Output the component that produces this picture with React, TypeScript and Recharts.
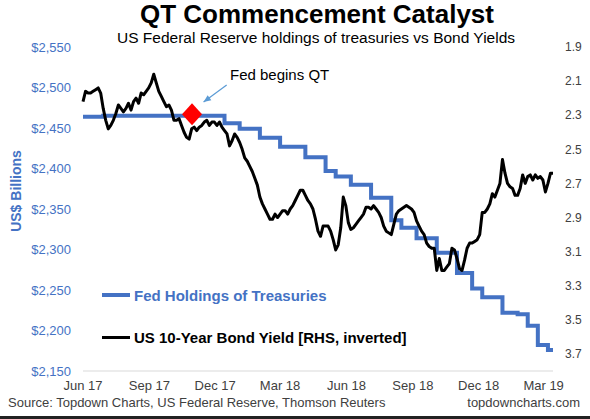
import React from 'react';
import {
  ComposedChart,
  Legend,
  Line,
  ReferenceDot,
  ReferenceLine,
  XAxis,
  YAxis
} from 'recharts';

// 10y yield, two readings a week starting 1 Jun 2017
const bondYield = [
  2.22, 2.16, 2.17, 2.17, 2.16, 2.15, 2.14, 2.17, 2.26, 2.33,
  2.38, 2.36, 2.33, 2.29, 2.24, 2.26, 2.28, 2.26, 2.23, 2.27,
  2.22, 2.2, 2.23, 2.17, 2.18, 2.16, 2.14, 2.11, 2.06, 2.11,
  2.16, 2.19, 2.22, 2.25, 2.24, 2.27, 2.33, 2.33, 2.32, 2.36,
  2.4, 2.43, 2.44, 2.38, 2.37, 2.39, 2.37, 2.36, 2.34, 2.33,
  2.36, 2.34, 2.34, 2.36, 2.34, 2.37, 2.39, 2.41, 2.48, 2.45,
  2.41, 2.43, 2.46, 2.5, 2.55, 2.57, 2.6, 2.63, 2.67, 2.71,
  2.78, 2.82, 2.85, 2.88, 2.91, 2.91, 2.88, 2.9, 2.88, 2.86,
  2.86, 2.88, 2.85, 2.83, 2.8, 2.77, 2.74, 2.74, 2.77, 2.8,
  2.82, 2.85, 2.91, 2.98, 3.01, 2.95, 2.95, 2.95, 2.98, 3.03,
  3.09, 3.06, 2.96, 2.78, 2.83, 2.93, 2.97, 2.96, 2.94, 2.92,
  2.9, 2.88, 2.84, 2.84, 2.85, 2.83, 2.85, 2.87, 2.9, 2.95,
  2.98, 2.99, 3.0, 2.94, 2.88, 2.86, 2.85, 2.84, 2.83, 2.84,
  2.85, 2.87, 2.92, 2.95, 2.98, 3.0, 3.05, 3.07, 3.08, 3.08,
  3.21, 3.14, 3.21, 3.21, 3.19, 3.17, 3.08, 3.09, 3.14, 3.2,
  3.21, 3.15, 3.08, 3.05, 3.05, 3.04, 3.03, 3.0, 2.87, 2.87,
  2.85, 2.82, 2.76, 2.78, 2.74, 2.7, 2.56, 2.64, 2.7, 2.72,
  2.73, 2.77, 2.77, 2.73, 2.65, 2.7, 2.66, 2.65, 2.68, 2.65,
  2.67, 2.66, 2.68, 2.75, 2.7, 2.64, 2.64
];

// Fed treasury holdings (US$ bn), weekly starting 1 Jun 2017
const fedHoldings = [
  2464, 2464, 2464, 2464, 2465, 2465, 2465, 2465, 2465, 2465,
  2465, 2465, 2465, 2465, 2465, 2465, 2465, 2465, 2465, 2465,
  2465, 2465, 2465, 2465, 2465, 2465, 2465, 2465, 2456, 2456,
  2456, 2449, 2449, 2449, 2449, 2438, 2438, 2438, 2438, 2427,
  2427, 2427, 2427, 2427, 2414, 2414, 2414, 2414, 2397, 2397,
  2390, 2390, 2390, 2380, 2380, 2380, 2380, 2364, 2364, 2364,
  2364, 2336, 2336, 2327, 2327, 2327, 2314, 2314, 2314, 2314,
  2296, 2296, 2296, 2296, 2271, 2271, 2271, 2252, 2252, 2241,
  2241, 2241, 2241, 2222, 2222, 2222, 2220, 2220, 2206, 2206,
  2182, 2182, 2176, 2176
];

const quarterTicks = [0, 92, 183, 273, 365, 457, 548, 638];
const quarterLabels = ['Jun 17', 'Sep 17', 'Dec 17', 'Mar 18', 'Jun 18', 'Sep 18', 'Dec 18', 'Mar 19'];
const holdingsTicks = [2150, 2200, 2250, 2300, 2350, 2400, 2450, 2500, 2550];
const yieldTicks = [1.9, 2.1, 2.3, 2.5, 2.7, 2.9, 3.1, 3.3, 3.5, 3.7];

// day the Fed started running off its balance sheet, and where the note arrow sits
const qtStart = { day: 151, holdings: 2467 };
const arrowFrom = { day: 199, holdings: 2503 };
const arrowTo = { day: 167, holdings: 2482 };

const yieldRows = bondYield.map((y, i) => ({ day: i * 3.5, yield: y }));
const fedRows = fedHoldings.map((v, i) => ({ day: i * 7, fed: v }));

const BLUE = '#4472c4';
const FONT = '"Liberation Sans", Arial, sans-serif';

const Diamond = (props: any) => {
  const { cx, cy } = props;
  return (
    <polygon
      points={`${cx},${cy - 11} ${cx + 10},${cy} ${cx},${cy + 11} ${cx - 10},${cy}`}
      fill="#ff0000"
    />
  );
};

const Arrow = (props: any) => {
  const { x1, y1, x2, y2 } = props;
  const ang = Math.atan2(y2 - y1, x2 - x1);
  const len = 8;
  const a1 = ang + Math.PI - 0.4;
  const a2 = ang + Math.PI + 0.4;
  return (
    <g>
      <line x1={x1} y1={y1} x2={x2} y2={y2} stroke="#5b9bd5" strokeWidth={1.2} />
      <polygon
        points={`${x2},${y2} ${x2 + len * Math.cos(a1)},${y2 + len * Math.sin(a1)} ${x2 + len * Math.cos(a2)},${y2 + len * Math.sin(a2)}`}
        fill="#5b9bd5"
      />
    </g>
  );
};

const LegendBox = () => (
  <div style={{ fontFamily: FONT, fontWeight: 'bold', fontSize: 15 }}>
    <div style={{ display: 'flex', alignItems: 'center', height: 42 }}>
      <div style={{ width: 28, height: 4, background: BLUE, marginRight: 4 }} />
      <span style={{ color: BLUE }}>Fed Holdings of Treasuries</span>
    </div>
    <div style={{ display: 'flex', alignItems: 'center', height: 42 }}>
      <div style={{ width: 28, height: 3, background: '#000', marginRight: 4 }} />
      <span style={{ color: '#000' }}>US 10-Year Bond Yield [RHS, inverted]</span>
    </div>
  </div>
);

export default function App() {
  return (
    <div style={{ position: 'absolute', left: 0, top: 0, width: 590, height: 419, background: '#fff', fontFamily: FONT }}>
      <ComposedChart width={590} height={419} margin={{ top: 47, right: 0, bottom: 18, left: 0 }}>
        <XAxis
          dataKey="day"
          type="number"
          domain={[0, 651]}
          ticks={quarterTicks}
          tickFormatter={(v) => quarterLabels[quarterTicks.indexOf(v)]}
          tickLine={false}
          tickSize={6}
          tickMargin={4}
          height={30}
          stroke="#d9d9d9"
          tick={{ fill: '#404040', fontSize: 13 }}
          allowDuplicatedCategory={false}
        />
        <YAxis
          yAxisId="left"
          width={83}
          domain={[2150, 2550]}
          ticks={holdingsTicks}
          tickFormatter={(v) => `$${v.toLocaleString('en-US')}`}
          axisLine={false}
          tickLine={false}
          tickSize={6}
          tickMargin={6}
          tick={{ fill: BLUE, fontSize: 13 }}
        />
        <YAxis
          yAxisId="right"
          orientation="right"
          width={37}
          reversed
          domain={[1.9, 3.8]}
          ticks={yieldTicks}
          tickFormatter={(v) => v.toFixed(1)}
          axisLine={false}
          tickLine={false}
          tickSize={6}
          tickMargin={6}
          tick={{ fill: '#404040', fontSize: 12 }}
        />
        <Legend
          layout="vertical"
          align="center"
          verticalAlign="middle"
          wrapperStyle={{ left: 102, top: 274, width: 330 }}
          content={() => <LegendBox />}
        />
        <Line
          yAxisId="left"
          data={fedRows}
          type="stepAfter"
          dataKey="fed"
          stroke={BLUE}
          strokeWidth={4}
          dot={false}
          isAnimationActive={false}
        />
        <Line
          yAxisId="right"
          data={yieldRows}
          type="linear"
          dataKey="yield"
          stroke="#000"
          strokeWidth={3}
          strokeLinejoin="round"
          dot={false}
          isAnimationActive={false}
        />
        <ReferenceLine
          yAxisId="left"
          segment={[
            { x: arrowFrom.day, y: arrowFrom.holdings },
            { x: arrowTo.day, y: arrowTo.holdings }
          ]}
          shape={Arrow}
        />
        <ReferenceDot yAxisId="left" x={qtStart.day} y={qtStart.holdings} shape={Diamond} />
      </ComposedChart>
      <svg
        width={590}
        height={419}
        style={{ position: 'absolute', left: 0, top: 0, pointerEvents: 'none' }}
        fontFamily={FONT}
      >
        <text x={317} y={23} textAnchor="middle" fontSize={26} fontWeight="bold" fill="#000">
          QT Commencement Catalyst
        </text>
        <text x={316} y={43} textAnchor="middle" fontSize={15.5} fill="#000">
          US Federal Reserve holdings of treasuries vs Bond Yields
        </text>
        <text x={230} y={80} fontSize={15} fill="#000">
          Fed begins QT
        </text>
        <text
          x={16}
          y={191}
          transform="rotate(-90 16 191)"
          textAnchor="middle"
          dominantBaseline="central"
          fontSize={14}
          fontWeight="bold"
          fill={BLUE}
        >
          US$ Billions
        </text>
        <text x={8} y={407} fontSize={13} fill="#404040">
          Source: Topdown Charts, US Federal Reserve, Thomson Reuters
        </text>
        <text x={580} y={407} textAnchor="end" fontSize={13} fill="#404040">
          topdowncharts.com
        </text>
      </svg>
      <div style={{ position: 'absolute', left: 0, top: 416, width: 590, height: 3, background: '#222' }} />
    </div>
  );
}
